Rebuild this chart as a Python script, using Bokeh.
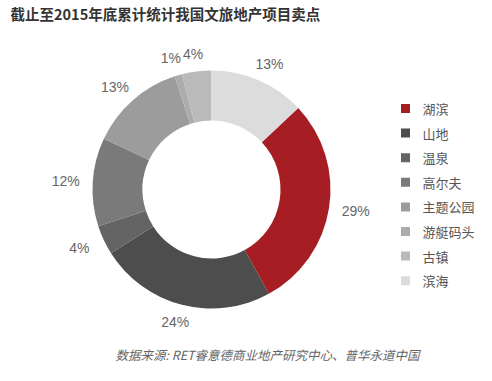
import math
from bokeh.plotting import figure
from bokeh.models import Range1d
from bokeh.core.properties import value
from bokeh.embed import file_html
from bokeh.resources import INLINE

title_text = "截止至2015年底累计统计我国文旅地产项目卖点"
source_text = "数据来源: RET睿意德商业地产研究中心、普华永道中国"
categories = ["湖滨", "山地", "温泉", "高尔夫", "主题公园", "游艇码头", "古镇", "滨海"]
shares = [29, 24, 4, 12, 13, 1, 4, 13]
colors = ["#a61e23", "#4d4d4d", "#646464", "#7a7a7a", "#9c9c9c", "#acacac", "#bababa", "#dcdcdc"]

W, H = 476, 365
p = figure(width=W, height=H, output_backend="svg", toolbar_location=None,
           x_range=Range1d(0, W), y_range=Range1d(0, H), min_border=0)
p.axis.visible = False
p.grid.visible = False
p.outline_line_color = None
p.background_fill_color = "white"
p.border_fill_color = "white"

cx, cy = 211, 176
R_out, R_in = 119, 69
R_lab_x, R_lab_y = 146, 137
total = sum(shares)
offset = shares[-1] / total * 360.0  # last slice ends at 12 o'clock

starts, ends, lx, ly, labels = [], [], [], [], []
cum = 0.0
for s in shares:
    cw0 = offset + cum / total * 360.0
    cw1 = offset + (cum + s) / total * 360.0
    cum += s
    starts.append(math.radians(90 - cw1))
    ends.append(math.radians(90 - cw0))
    mid = math.radians((cw0 + cw1) / 2)
    lx.append(cx + R_lab_x * math.sin(mid))
    ly.append(cy + R_lab_y * math.cos(mid))
    labels.append(f"{s}%")

p.annular_wedge(x=[cx] * len(shares), y=[cy] * len(shares), inner_radius=R_in,
                outer_radius=R_out, start_angle=starts, end_angle=ends,
                direction="anticlock", fill_color=colors, line_color=None)

p.text(x=lx, y=ly, text=labels, text_align="center", text_baseline="middle",
       text_font=value("Liberation Sans"), text_font_size="14px", text_color="#666666")

# legend
lg_x, lg_y0, lg_dy = 405, 257, 24.6
ys = [lg_y0 - i * lg_dy for i in range(len(categories))]
p.rect(x=[lg_x] * len(categories), y=ys, width=9, height=9, fill_color=colors, line_color=None)
p.text(x=[lg_x + 17] * len(categories), y=ys, text=categories, text_align="left",
       text_baseline="middle", text_font=value("Noto Sans CJK SC"), text_font_size="13px",
       text_color="#555555")

p.text(x=[10], y=[352], text=[title_text], text_align="left", text_baseline="middle",
       text_font=value("Noto Sans CJK SC"), text_font_size="14.5px", text_font_style="bold",
       text_color="#333333")

p.text(x=[115], y=[11], text=[source_text], text_align="left", text_baseline="middle",
       text_font=value("Noto Sans CJK SC"), text_font_size="12.5px", text_font_style="italic",
       text_color="#666666")

open("out.html", "w").write(file_html(p, INLINE))
